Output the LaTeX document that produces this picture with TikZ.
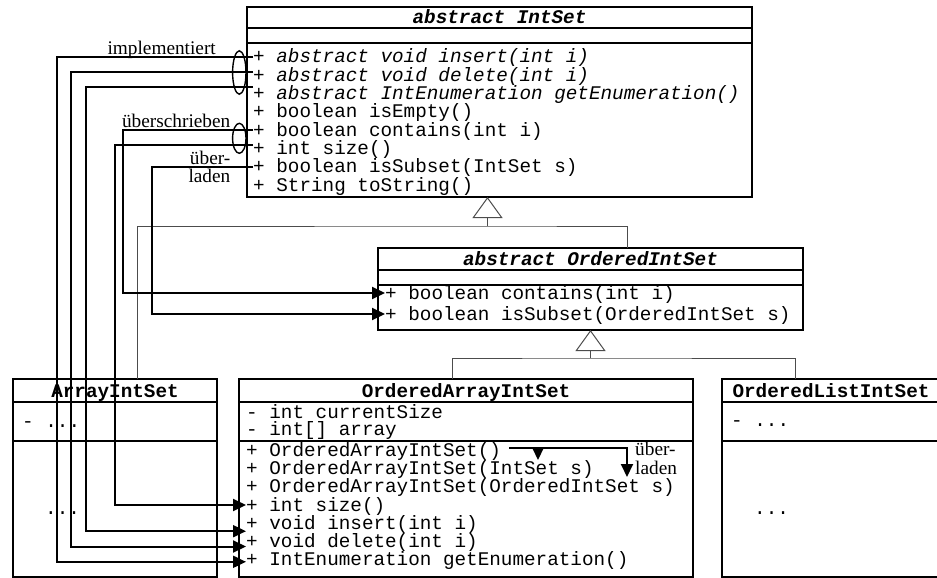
\documentclass[tikz,border=0pt]{standalone}
\usepackage{fontspec}
\setmainfont{Liberation Serif}
\setmonofont{Liberation Mono}
\usetikzlibrary{positioning,arrows.meta,shapes.geometric}

\newcommand{\umlfont}{\fontsize{19.3}{19.3}\selectfont}

\tikzset{
  compartment/.style={draw, line width=1.2pt, inner sep=0pt, outer sep=0pt},
  classname/.style={compartment, text height=13pt, text depth=0pt, font=\umlfont\ttfamily\bfseries},
  abstractname/.style={classname, font=\umlfont\ttfamily\bfseries\itshape},
  member/.style={anchor=west, inner sep=0pt, text height=12pt, text depth=0pt, font=\umlfont\ttfamily},
  remark/.style={anchor=base east, inner sep=0pt, font=\umlfont\rmfamily},
  group/.style={draw, ellipse, line width=1.4pt, inner sep=0pt, minimum width=13.4pt},
  link/.style={line width=2pt, -{Triangle[length=13pt,width=12pt]}},
  inherit/.style={draw=black!70, line width=1pt},
  generalize/.style={inherit, -{Triangle[open,length=21pt,width=30pt]}},
}

\begin{document}
\begin{tikzpicture}[x=1pt, y=-1pt]
  \useasboundingbox (0,0) rectangle (937,578);

  % Classes
  \node[abstractname, minimum width=505pt, minimum height=21pt] (isTitle) at (499.5,17.5) {abstract IntSet}; % base class
  \node[compartment, minimum width=505pt, minimum height=15pt, below=0pt of isTitle] (isAttr) {};
  \node[compartment, minimum width=505pt, minimum height=154pt, below=0pt of isAttr] (isOps) {};

  \node[abstractname, minimum width=425pt, minimum height=22pt] (oisTitle) at (590.5,259) {abstract OrderedIntSet}; % ordered sets
  \node[compartment, minimum width=425pt, minimum height=15pt, below=0pt of oisTitle] (oisAttr) {};
  \node[compartment, minimum width=425pt, minimum height=45pt, below=0pt of oisAttr] (oisOps) {};

  \node[classname, minimum width=204pt, minimum height=23pt] (aisTitle) at (115,390.5) {ArrayIntSet};
  \node[compartment, minimum width=204pt, minimum height=39pt, below=0pt of aisTitle] (aisAttr) {};
  \node[compartment, minimum width=204pt, minimum height=136pt, below=0pt of aisAttr] (aisOps) {};

  \node[classname, minimum width=454pt, minimum height=23pt] (oaTitle) at (466,390.5) {OrderedArrayIntSet};
  \node[compartment, minimum width=454pt, minimum height=39pt, below=0pt of oaTitle] (oaAttr) {};
  \node[compartment, minimum width=454pt, minimum height=136pt, below=0pt of oaAttr] (oaOps) {};

  \node[classname, minimum width=218pt, minimum height=23pt] (olTitle) at (831,390.5) {OrderedListIntSet};
  \node[compartment, minimum width=218pt, minimum height=39pt, below=0pt of olTitle] (olAttr) {};
  \node[compartment, minimum width=218pt, minimum height=136pt, below=0pt of olAttr] (olOps) {};

  % Members
  \node[member] (isInsert) at (253,57) {+ \textit{abstract void insert(int i)}};
  \node[member] (isDelete) at (253,75.3) {+ \textit{abstract void delete(int i)}};
  \node[member] (isEnum) at (253,93.6) {+ \textit{abstract IntEnumeration getEnumeration()}};
  \node[member] (isEmpty) at (253,111.9) {+ boolean isEmpty()};
  \node[member] (isContains) at (253,130.1) {+ boolean contains(int i)};
  \node[member] (isSize) at (253,148.4) {+ int size()};
  \node[member] (isSubset) at (253,166.7) {+ boolean isSubset(IntSet s)};
  \node[member] (isToString) at (253,185) {+ String toString()};

  \node[member] (oisContains) at (385,293) {+ boolean contains(int i)};
  \node[member] (oisSubset) at (385,314) {+ boolean isSubset(OrderedIntSet s)};

  \node[member] (aisField) at (22,421) {- ...};
  \node[member] (aisMethods) at (45,508) {...};

  \node[member] (oaCurrent) at (246,412) {- int currentSize};
  \node[member] (oaArray) at (246,429) {- int[] array};
  \node[member] (oaCtorA) at (246,450) {+ OrderedArrayIntSet()};
  \node[member] (oaCtorB) at (246,468.3) {+ OrderedArrayIntSet(IntSet s)};
  \node[member] (oaCtorC) at (246,486.6) {+ OrderedArrayIntSet(OrderedIntSet s)};
  \node[member] (oaSize) at (246,505) {+ int size()};
  \node[member] (oaInsert) at (246,523.2) {+ void insert(int i)};
  \node[member] (oaDelete) at (246,541.5) {+ void delete(int i)};
  \node[member] (oaEnum) at (246,559.8) {+ IntEnumeration getEnumeration()};

  \node[member] (olField) at (731,420) {- ...};
  \node[member] (olMethods) at (754,508) {...};

  % Remarks
  \node[group, minimum height=43.4pt] (implGroup) at (239.3,72.5) {};
  \node[group, minimum height=30pt] (overGroup) at (239.3,138.3) {};
  \node[remark] (implLabel) at (216,55) {implementiert};
  \node[remark] (overLabel) at (230.5,127.5) {überschrieben};
  \node[remark] (loadTop) at (230.5,164) {über-};
  \node[remark] (loadBottom) at (230.5,182.5) {laden};
  \node[remark, anchor=base west] (ctorTop) at (635,455) {über-};
  \node[remark, anchor=base west] (ctorBottom) at (635,474.5) {laden};

  % Inheritance
  \coordinate (isJoin) at (487.5,226);
  \coordinate (oisJoin) at (590.5,358);
  \draw[inherit] ([xshift=22pt]aisTitle.north) |- (isJoin) -| ([xshift=36.5pt]oisTitle.north);
  \draw[generalize] (isJoin) -- (isJoin |- isOps.south);
  \draw[inherit] ([xshift=-14pt]oaTitle.north) |- (oisJoin) -| ([xshift=-36pt]olTitle.north);
  \draw[generalize] (oisJoin) -- (oisOps.south);

  % Edges
  \coordinate (busImplA) at (57,250);
  \coordinate (busImplB) at (71,250);
  \coordinate (busImplC) at (86,250);
  \coordinate (busSize) at (115,250);
  \coordinate (busContains) at (122.7,250);
  \coordinate (busSubset) at (151.7,250);
  \draw[link] (isInsert.west) -| (busImplA) |- ([yshift=-2pt]oaEnum.west);
  \draw[link] ([yshift=3pt]isDelete.west) -| (busImplB) |- ([yshift=-5pt]oaDelete.west);
  \draw[link] ([yshift=7pt]isEnum.west) -| (busImplC) |- ([yshift=-8pt]oaInsert.west);
  \draw[link] ([yshift=3pt]isSize.west) -| (busSize) |- (oaSize.west);
  \draw[link] (isContains.west) -| (busContains) |- (oisContains.west);
  \draw[link] (isSubset.west) -| (busSubset) |- (oisSubset.west);

  \coordinate (ctorTipB) at (538,460);
  \coordinate (ctorTipC) at (627,477);
  \draw[link] ([xshift=8pt,yshift=2pt]oaCtorA.east) -| (ctorTipC); % overloaded constructors
  \draw[link] ([yshift=2pt]ctorTipB |- oaCtorA.east) -- (ctorTipB);

\end{tikzpicture}
\end{document}
